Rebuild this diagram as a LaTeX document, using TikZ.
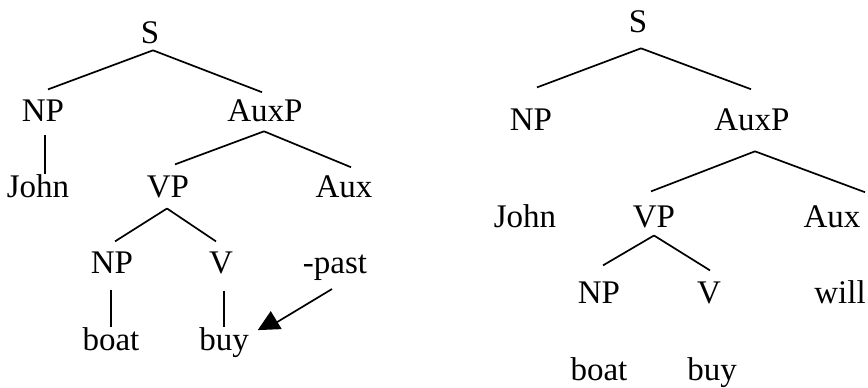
\documentclass[tikz,border=0pt]{standalone}
\usepackage{fontspec}
\setmainfont{Liberation Serif}
\begin{document}
\begin{tikzpicture}[x=1pt,y=-1pt,
  lbl/.style={anchor=base,inner sep=0pt,outer sep=0pt,font=\fontsize{33}{40}\selectfont},
  edge/.style={line width=1.7pt,black}]
\useasboundingbox (0,0) rectangle (868,388);
% left tree
\node[lbl] (S) at (150,43) {S};
\node[lbl] (NPa) at (43,121) {NP};
\node[lbl] (AuxPa) at (265,121) {AuxP};
\node[lbl] (Johna) at (38,197) {John};
\node[lbl] (VPa) at (168,197) {VP};
\node[lbl] (Auxa) at (344,197) {Aux};
\node[lbl] (NPb) at (112,273) {NP};
\node[lbl] (Va) at (221,273) {V};
\node[lbl] (past) at (335,273) {-past};
\node[lbl] (boata) at (111,350) {boat};
\node[lbl] (buya) at (224,350) {buy};
\draw[edge] ([shift={(3,7)}]S.south) -- ([shift={(5,-10)}]NPa.north);
\draw[edge] ([shift={(3,7)}]S.south) -- ([shift={(-3,-7)}]AuxPa.north);
\path ([shift={(2,14)}]NPa.south) coordinate (j1);
\draw[edge] (j1) -- (j1 |- Johna.north);
\draw[edge] ([shift={(-1,10)}]AuxPa.south) -- ([shift={(7,-11)}]VPa.north);
\draw[edge] ([shift={(-1,10)}]AuxPa.south) -- ([shift={(7,-8)}]Auxa.north);
\draw[edge] ([shift={(-1,11)}]VPa.south) -- ([shift={(3,-10)}]NPb.north);
\draw[edge] ([shift={(-1,11)}]VPa.south) -- ([shift={(-5,-10)}]Va.north);
\path ([shift={(-1,17)}]NPb.south) coordinate (j2);
\draw[edge] (j2) -- (j2 |- boata.north);
\path ([shift={(3,17)}]Va.south) coordinate (j3);
\draw[edge] (j3) -- (j3 |- buya.north);
% arrow from -past to buy
\path ([shift={(9,3)}]buya.north east) coordinate (tip);
\draw[edge] ([shift={(-3,9)}]past.south) -- ([shift={(16,-6)}]tip);
\fill (tip) -- ([shift={(24,-1)}]tip) -- ([shift={(13,-19)}]tip) -- cycle;
% right tree
\node[lbl] (S2) at (638,32) {S};
\node[lbl] (NPc) at (531,130) {NP};
\node[lbl] (AuxPb) at (752,130) {AuxP};
\node[lbl] (Johnb) at (525,227) {John};
\node[lbl] (VPb) at (654,227) {VP};
\node[lbl] (Auxb) at (832,227) {Aux};
\node[lbl] (NPd) at (599,303) {NP};
\node[lbl] (Vb) at (709,303) {V};
\node[lbl] (will) at (840,303) {will};
\node[lbl] (boatb) at (599,380) {boat};
\node[lbl] (buyb) at (712,380) {buy};
\draw[edge] ([shift={(3,16)}]S2.south) -- ([shift={(6,-21)}]NPc.north);
\draw[edge] ([shift={(3,16)}]S2.south) -- ([shift={(-1,-19)}]AuxPb.north);
\draw[edge] ([shift={(3,21)}]AuxPb.south) -- ([shift={(-3,-14)}]VPb.north);
\draw[edge] ([shift={(3,21)}]AuxPb.south) -- ([shift={(33,-13)}]Auxb.north);
\draw[edge] ([shift={(0,8)}]VPb.south) -- ([shift={(4,-16)}]NPd.north);
\draw[edge] ([shift={(0,8)}]VPb.south) -- ([shift={(1,-11)}]Vb.north);
\end{tikzpicture}
\end{document}
